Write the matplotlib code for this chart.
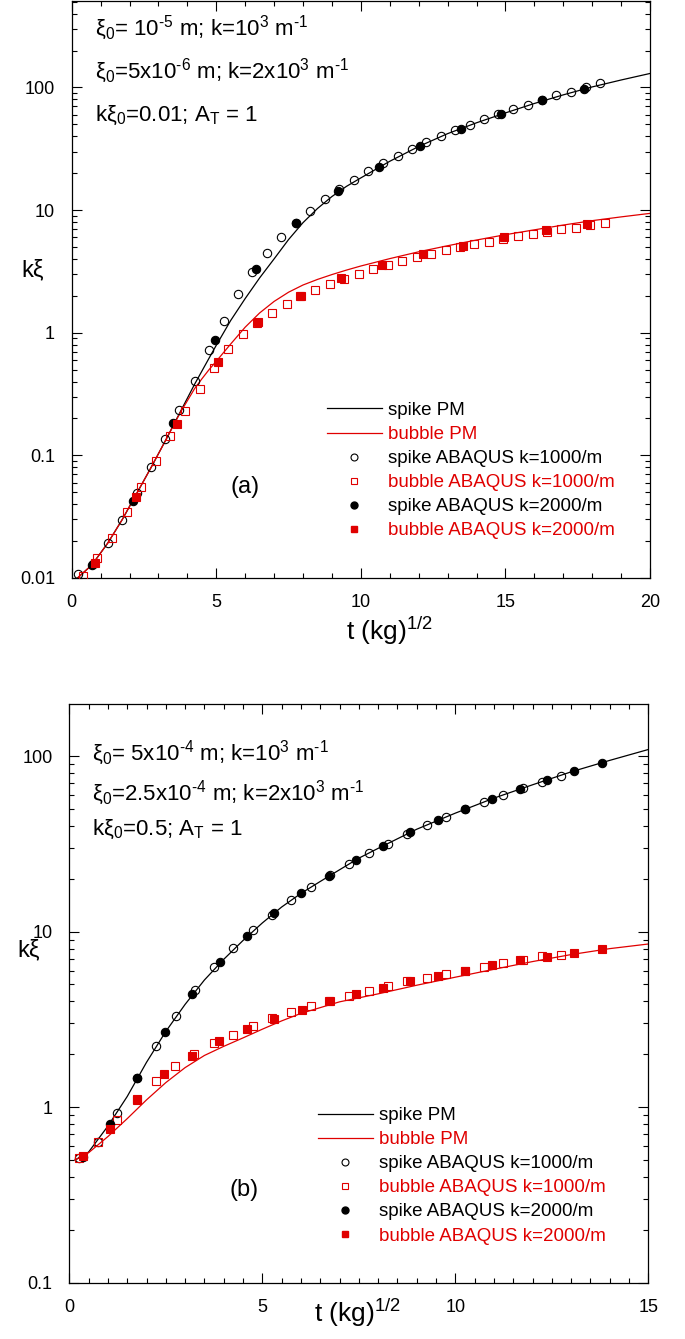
import numpy as np
import matplotlib
matplotlib.use("Agg")
import matplotlib.pyplot as plt
from matplotlib.lines import Line2D
from matplotlib.ticker import MultipleLocator, LogLocator, FixedLocator, FuncFormatter, NullFormatter

plt.rcParams['font.family'] = ['Liberation Sans', 'DejaVu Sans']
plt.rcParams['mathtext.fontset'] = 'custom'
plt.rcParams['mathtext.rm'] = 'Liberation Sans'
plt.rcParams['mathtext.it'] = 'Liberation Sans:italic'
plt.rcParams['mathtext.default'] = 'regular'

RED = '#e00000'

# ---------------- panel (a) data ----------------
t_a_spike_pm = [0.2, 0.7, 1.25, 1.75, 2.25, 2.75, 3.25, 3.75, 4.25, 4.75, 5.0, 5.5, 6.0, 6.5,
                7.0, 7.5, 8.0, 8.5, 9.0, 9.5, 10, 11, 12, 13, 14, 15, 16, 17, 18, 19, 20]
a_spike_pm = [0.0100, 0.0128, 0.0193, 0.030, 0.049, 0.080, 0.133, 0.225, 0.38, 0.62, 0.79, 1.26,
              1.9, 2.8, 4.0, 5.75, 7.9, 10.3, 12.9, 15.6, 18.3, 25, 33, 42, 51.5, 62, 74, 87, 101, 115, 130]

t_a_bub_pm = [0.2, 0.7, 1.25, 1.75, 2.25, 2.75, 3.25, 3.75, 4.25, 4.5, 4.75, 5.0, 5.5, 6.0, 6.5,
              7.0, 7.5, 8.0, 8.5, 9.0, 9.5, 10, 11, 12, 13, 14, 15, 16, 17, 18, 19, 20]
a_bub_pm = [0.0100, 0.0128, 0.0193, 0.030, 0.049, 0.080, 0.133, 0.222, 0.35, 0.42, 0.50, 0.585,
            0.81, 1.11, 1.45, 1.8, 2.14, 2.45, 2.72, 2.98, 3.24, 3.5, 4.02, 4.57, 5.12, 5.7, 6.3,
            6.9, 7.55, 8.2, 8.8, 9.4]

t_a_spike_1000 = [0.23, 0.75, 1.25, 1.73, 2.25, 2.74, 3.24, 3.72, 4.26, 4.75, 5.25, 5.75, 6.25,
                  6.76, 7.25, 7.75, 8.25, 8.75, 9.26, 9.76, 10.26, 10.76, 11.27, 11.76, 12.26,
                  12.77, 13.26, 13.76, 14.27, 14.76, 15.26, 15.77, 16.27, 16.76, 17.27, 17.77, 18.28]
a_spike_1000 = [0.0107, 0.0130, 0.0193, 0.0296, 0.049, 0.080, 0.135, 0.234, 0.405, 0.72, 1.25,
                2.05, 3.1, 4.43, 6.0, 7.8, 9.9, 12.2, 14.8, 17.5, 20.7, 24.0, 27.7, 31.5, 35.8,
                40.0, 44.8, 49.8, 55, 60.5, 66.4, 72.5, 78.7, 86, 92.6, 100, 108]

t_a_spike_2000 = [0.69, 2.11, 3.52, 4.94, 6.37, 7.76, 9.2, 10.62, 12.03, 13.46, 14.86, 16.28, 17.71]
a_spike_2000 = [0.0128, 0.0425, 0.182, 0.88, 3.3, 7.8, 14.4, 22.6, 33.3, 45.9, 60.5, 78.7, 98]

t_a_bub_1000 = [0.40, 0.89, 1.40, 1.90, 2.40, 2.91, 3.41, 3.92, 4.42, 4.91, 5.42, 5.92, 6.42,
                6.92, 7.43, 7.92, 8.42, 8.93, 9.42, 9.92, 10.43, 10.93, 11.43, 11.94, 12.43,
                12.94, 13.44, 13.93, 14.44, 14.93, 15.43, 15.94, 16.44, 16.93, 17.44, 17.93, 18.44]
a_bub_1000 = [0.0104, 0.0145, 0.0213, 0.0343, 0.0555, 0.090, 0.145, 0.23, 0.35, 0.52, 0.73,
              0.97, 1.2, 1.46, 1.71, 1.98, 2.22, 2.49, 2.75, 3.02, 3.32, 3.56, 3.84, 4.13, 4.39,
              4.69, 4.99, 5.25, 5.5, 5.8, 6.1, 6.36, 6.64, 6.95, 7.2, 7.49, 7.87]

t_a_bub_2000 = [0.81, 2.24, 3.64, 5.06, 6.45, 7.88, 9.31, 10.73, 12.14, 13.55, 14.96, 16.40, 17.82]
a_bub_2000 = [0.0133, 0.046, 0.179, 0.573, 1.23, 2.01, 2.77, 3.56, 4.35, 5.1, 5.98, 6.82, 7.64]

# ---------------- panel (b) data ----------------
t_b_spike_pm = [0.15, 0.5, 1.0, 1.5, 2.0, 2.5, 3.0, 3.5, 4.0, 4.5, 5.0, 5.5, 6.0, 6.5, 7.0, 7.5,
                8.0, 9.0, 10, 11, 12, 13, 14, 15]
b_spike_pm = [0.50, 0.555, 0.78, 1.15, 1.8, 2.7, 3.85, 5.3, 6.95, 8.9, 11.2, 13.8, 16.5, 19.3,
              22.5, 26.2, 29.8, 38.3, 47.3, 57.6, 68.6, 81.3, 94.5, 109]

t_b_bub_pm = [0.15, 0.5, 1.0, 1.5, 2.0, 2.5, 3.0, 3.5, 4.0, 4.5, 5.0, 5.5, 6.0, 7.0, 8.0, 9.0,
              10, 11, 12, 13, 14, 15]
b_bub_pm = [0.50, 0.55, 0.68, 0.86, 1.1, 1.38, 1.68, 1.97, 2.22, 2.48, 2.78, 3.1, 3.42, 3.98,
            4.42, 4.95, 5.5, 6.1, 6.75, 7.4, 8.0, 8.5]

t_b_spike_1000 = [0.25, 0.75, 1.24, 1.75, 2.25, 2.76, 3.25, 3.74, 4.25, 4.75, 5.25, 5.75, 6.25,
                  6.75, 7.25, 7.76, 8.26, 8.76, 9.26, 9.75, 10.25, 10.75, 11.24, 11.75, 12.25, 12.75]
b_spike_1000 = [0.51, 0.634, 0.93, 1.46, 2.24, 3.31, 4.67, 6.25, 8.06, 10.2, 12.5, 15.1, 17.9,
                20.9, 24.4, 28.1, 31.7, 36.1, 40.3, 44.8, 50, 55, 60.3, 65.9, 71.6, 77.5]

t_b_spike_2000 = [0.35, 1.05, 1.76, 2.47, 3.18, 3.9, 4.6, 5.3, 6.01, 6.74, 7.42, 8.13, 8.83, 9.54,
                  10.25, 10.96, 11.68, 12.38, 13.08, 13.79]
b_spike_2000 = [0.52, 0.80, 1.46, 2.68, 4.43, 6.67, 9.44, 12.7, 16.5, 20.8, 25.5, 30.8, 36.8,
                43.1, 50, 57.3, 65.3, 73.5, 82.4, 91.9]

t_b_bub_1000 = [0.25, 0.75, 1.24, 1.75, 2.25, 2.75, 3.24, 3.75, 4.25, 4.75, 5.25, 5.75, 6.25,
                6.75, 7.25, 7.76, 8.26, 8.76, 9.26, 9.75, 10.25, 10.75, 11.24, 11.75, 12.25, 12.75]
b_bub_1000 = [0.51, 0.63, 0.84, 1.1, 1.41, 1.71, 2.01, 2.31, 2.59, 2.9, 3.21, 3.49, 3.77, 4.04,
              4.31, 4.6, 4.92, 5.2, 5.45, 5.7, 6.0, 6.3, 6.6, 6.92, 7.23, 7.38]

t_b_bub_2000 = [0.35, 1.05, 1.76, 2.46, 3.18, 3.89, 4.6, 5.3, 6.03, 6.74, 7.42, 8.13, 8.83, 9.54,
                10.25, 10.96, 11.68, 12.38, 13.08, 13.79]
b_bub_2000 = [0.53, 0.75, 1.11, 1.54, 1.96, 2.38, 2.79, 3.18, 3.59, 4.04, 4.42, 4.77, 5.22, 5.6,
              6.0, 6.42, 6.92, 7.2, 7.55, 7.96]

legend_labels = ['spike PM', 'bubble PM', 'spike ABAQUS k=1000/m', 'bubble ABAQUS k=1000/m',
                 'spike ABAQUS k=2000/m', 'bubble ABAQUS k=2000/m']
legend_colors = ['black', RED, 'black', RED, 'black', RED]

fig = plt.figure(figsize=(6.85, 13.39), dpi=100)
ax1 = fig.add_axes([71.7 / 685, 1 - 578 / 1339, 578.3 / 685, 578 / 1339 - 0.0005])
ax2 = fig.add_axes([69.3 / 685, 1 - 1282.7 / 1339, 579 / 685, 578.7 / 1339])


def draw_panel(ax, pm_s, pm_b, s1, b1, s2, b2):
    ax.plot(pm_s[0], pm_s[1], color='black', lw=0.9, zorder=2)
    ax.plot(pm_b[0], pm_b[1], color=RED, lw=0.9, zorder=2)
    ax.plot(s1[0], s1[1], 'o', ms=6, mfc='none', mec='black', mew=0.8, zorder=3)
    ax.plot(b1[0], b1[1], 's', ms=6, mfc='none', mec=RED, mew=0.8, zorder=3)
    ax.plot(s2[0], s2[1], 'o', ms=6, mfc='black', mec='black', mew=0.8, zorder=4)
    ax.plot(b2[0], b2[1], 's', ms=6, mfc=RED, mec=RED, mew=0.8, zorder=4)
    ax.set_yscale('log')
    ax.tick_params(which='both', direction='in', top=True, right=True, width=0.8, labelsize=13)
    ax.tick_params(which='major', length=7)
    ax.tick_params(which='minor', length=3.6)
    ax.tick_params(axis='x', which='major', pad=11.5)
    ax.tick_params(axis='y', which='major', pad=12)
    ax.yaxis.set_minor_locator(LogLocator(base=10, subs=np.arange(2, 10)))
    ax.yaxis.set_minor_formatter(NullFormatter())
    ax.yaxis.set_major_formatter(FuncFormatter(lambda v, p: '%g' % v))
    for sp in ax.spines.values():
        sp.set_linewidth(0.9)

    handles = [Line2D([], [], color='black', lw=0.9),
               Line2D([], [], color=RED, lw=0.9),
               Line2D([], [], ls='none', marker='o', ms=5, mfc='none', mec='black', mew=0.8),
               Line2D([], [], ls='none', marker='s', ms=5, mfc='none', mec=RED, mew=0.8),
               Line2D([], [], ls='none', marker='o', ms=5, mfc='black', mec='black'),
               Line2D([], [], ls='none', marker='s', ms=5, mfc=RED, mec=RED)]
    return handles


h = draw_panel(ax1, (t_a_spike_pm, a_spike_pm), (t_a_bub_pm, a_bub_pm),
               (t_a_spike_1000, a_spike_1000), (t_a_bub_1000, a_bub_1000),
               (t_a_spike_2000, a_spike_2000), (t_a_bub_2000, a_bub_2000))
ax1.set_xlim(0, 20)
ax1.set_ylim(0.01, 510)
ax1.xaxis.set_major_locator(MultipleLocator(5))
ax1.xaxis.set_minor_locator(MultipleLocator(1))
ax1.yaxis.set_major_locator(FixedLocator([0.01, 0.1, 1, 10, 100]))
ax1.legend(h, legend_labels, labelcolor=legend_colors, loc='upper left', frameon=False,
           bbox_to_anchor=(0.441, 0.305), borderaxespad=0, borderpad=0, fontsize=13.5,
           handlelength=2.93, handletextpad=0.32, labelspacing=0.37)
ax1.text(0.040, 0.939, r'ξ$_0$= 10$^{\text{-5}}$ m; k=10$^3$ m$^{\text{-1}}$', transform=ax1.transAxes, fontsize=16)
ax1.text(0.040, 0.866, r'ξ$_0$=5x10$^{\text{-6}}$ m; k=2x10$^3$ m$^{\text{-1}}$', transform=ax1.transAxes, fontsize=16)
ax1.text(0.040, 0.792, 'kξ$_0$=0.01; A$_T$ = 1', transform=ax1.transAxes, fontsize=16)
ax1.text(0.30, 0.157, '(a)', transform=ax1.transAxes, fontsize=17, ha='center', va='center')
ax1.text(-0.067, 0.533, 'kξ', transform=ax1.transAxes, fontsize=17, ha='center', va='center')
ax1.set_xlabel('t (kg)$^{1/2}$', fontsize=19)
ax1.xaxis.set_label_coords(0.55, -0.064)

h = draw_panel(ax2, (t_b_spike_pm, b_spike_pm), (t_b_bub_pm, b_bub_pm),
               (t_b_spike_1000, b_spike_1000), (t_b_bub_1000, b_bub_1000),
               (t_b_spike_2000, b_spike_2000), (t_b_bub_2000, b_bub_2000))
ax2.set_xlim(0, 15)
ax2.set_ylim(0.1, 198)
ax2.xaxis.set_major_locator(MultipleLocator(5))
ax2.xaxis.set_minor_locator(MultipleLocator(0.5))
ax2.yaxis.set_major_locator(FixedLocator([0.1, 1, 10, 100]))
ax2.legend(h, legend_labels, labelcolor=legend_colors, loc='upper left', frameon=False,
           bbox_to_anchor=(0.4295, 0.3035), borderaxespad=0, borderpad=0, fontsize=13.5,
           handlelength=2.93, handletextpad=0.32, labelspacing=0.37)
ax2.text(0.039, 0.903, r'ξ$_0$= 5x10$^{\text{-4}}$ m; k=10$^3$ m$^{\text{-1}}$', transform=ax2.transAxes, fontsize=16)
ax2.text(0.039, 0.834, r'ξ$_0$=2.5x10$^{\text{-4}}$ m; k=2x10$^3$ m$^{\text{-1}}$', transform=ax2.transAxes, fontsize=16)
ax2.text(0.039, 0.774, 'kξ$_0$=0.5; A$_T$ = 1', transform=ax2.transAxes, fontsize=16)
ax2.text(0.302, 0.160, '(b)', transform=ax2.transAxes, fontsize=17, ha='center', va='center')
ax2.text(-0.07, 0.575, 'kξ', transform=ax2.transAxes, fontsize=17, ha='center', va='center')
ax2.set_xlabel('t (kg)$^{1/2}$', fontsize=19)
ax2.xaxis.set_label_coords(0.497, -0.025)

fig.savefig('out.png', dpi=100)
